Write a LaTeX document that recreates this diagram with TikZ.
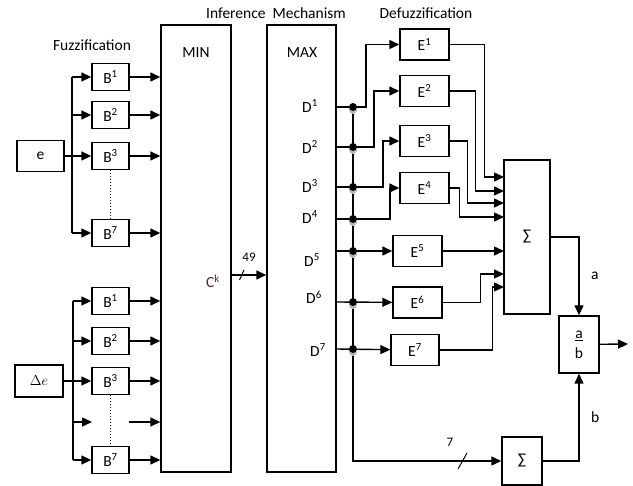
\documentclass[tikz,border=0pt]{standalone}
\usepackage{fontspec}
\setmainfont{Carlito}
\usetikzlibrary{positioning, arrows.meta}

\definecolor{ckcol}{RGB}{80,35,70}

\begin{document}
\begin{tikzpicture}[
    x=1pt, y=-1pt,
    font=\fontsize{15.5}{18}\selectfont,
    box/.style={draw, line width=1.4pt, inner sep=0pt},
    inbox/.style={box, minimum width=47pt, minimum height=31pt},
    fbox/.style={box, minimum width=37pt, minimum height=27pt},
    ebox/.style={box, minimum width=49pt, minimum height=31pt},
    bigbox/.style={box, minimum width=70pt, minimum height=447pt},
    wire/.style={line width=1.4pt},
    arr/.style={-{Triangle[length=10pt, width=9pt]}, line width=1.4pt},
    dots/.style={line width=1pt, dotted},
    tag/.style={font=\fontsize{13}{15}\selectfont}
]
\useasboundingbox (0,0) rectangle (633,486);

% === FUZZIFICATION ===
\node (fuzz) at (92,45) {Fuzzification};

\node[inbox] (e) at (40.5,156) {e};
\node[fbox] (b1) at (110.5,77) {B\textsuperscript{1}};
\node[fbox] (b2) at (110.5,115) {B\textsuperscript{2}};
\node[fbox] (b3) at (110.5,156) {B\textsuperscript{3}};
\node[fbox] (b7) at (110.5,233) {B\textsuperscript{7}};

\node[inbox, minimum width=48pt, minimum height=32pt] (de) at (39,381) {$\Delta e$};
\node[fbox] (c1) at (110.5,301) {B\textsuperscript{1}};
\node[fbox] (c2) at (110.5,341) {B\textsuperscript{2}};
\node[fbox] (c3) at (110.5,381) {B\textsuperscript{3}};
\node[fbox] (c7) at (110.5,460) {B\textsuperscript{7}};
\coordinate (phin) at (92,422);
\coordinate (phout) at (129,422);

% branch points
\coordinate (ebr) at (72,156);
\coordinate (dbr) at (73,381);

% === INFERENCE MECHANISM ===
\node (infer) at (276,13) {Inference\ \ Mechanism};
\node[bigbox] (min) at (196,248.5) {};
\node[bigbox, minimum width=69pt] (max) at (301.5,248.5) {};
\node (minlab) at (196,53) {MIN};
\node (maxlab) at (302,53) {MAX};
\node[text=ckcol] (ck) at (213,281) {C\textsuperscript{k}};

% e branch
\draw[arr] (e) -- (b3);
\draw[wire] (ebr |- b1) -- (ebr |- b7);
\draw[arr] (ebr |- b1) -- (b1);
\draw[arr] (ebr |- b2) -- (b2);
\draw[arr] (ebr |- b7) -- (b7);
\draw[dots] (b3) -- (b7);
\foreach \n in {b1,b2,b3,b7}
    \draw[arr] (\n) -- (\n -| min.west);

% delta e branch
\draw[arr] (de) -- (c3);
\draw[wire] (dbr |- c1) -- (dbr |- c7);
\draw[arr] (dbr |- c1) -- (c1);
\draw[arr] (dbr |- c2) -- (c2);
\draw[arr] (dbr |- phin) -- (phin);
\draw[arr] (dbr |- c7) -- (c7);
\draw[dots] (c3) -- (c7);
\draw[arr] (phout) -- (phout -| min.west);
\foreach \n in {c1,c2,c3,c7}
    \draw[arr] (\n) -- (\n -| min.west);

% MIN to MAX, 49 lines
\coordinate (c49) at (231,275);
\draw[arr] (c49) -- (c49 -| max.west);
\draw[wire, line width=1pt] (239.5,280) -- (244,270);
\node[tag] (n49) at (249,257) {49};

% D outputs
\foreach \i/\y/\x in {1/106/310, 2/147/310, 3/186/310, 4/217/310, 5/260/312, 6/297/314, 7/350/318}
    \node (dl\i) at (\x,\y) {D\textsuperscript{\i}};

\foreach \i/\y in {1/107, 2/147, 3/187, 4/219, 5/251, 6/302, 7/349} {
    \coordinate (d\i) at (336,\y);
    \coordinate (j\i) at (353,\y);
}

% === DEFUZZIFICATION ===
\node (defuzz) at (426,13) {Defuzzification};

\node[ebox] (e1) at (424.5,44.5) {E\textsuperscript{1}};
\node[ebox] (e2) at (424.5,91) {E\textsuperscript{2}};
\node[ebox] (e3) at (424.5,141) {E\textsuperscript{3}};
\node[ebox] (e4) at (424.5,188) {E\textsuperscript{4}};
\node[ebox] (e5) at (417.5,251) {E\textsuperscript{5}};
\node[ebox] (e6) at (417.5,302.5) {E\textsuperscript{6}};
\node[ebox, minimum width=48pt] (e7) at (415,350) {E\textsuperscript{7}};

\node[box, minimum width=46pt, minimum height=154pt] (s1) at (527,237) {∑};
\node[box, minimum width=40pt, minimum height=57pt, align=center] (ab) at (579,344.5) {\underline{a}\\[2pt]b};
\node[box, minimum width=40pt, minimum height=48pt] (s2) at (522,461) {∑};

% inputs of the sum
\foreach \k/\y in {1/177, 2/191, 3/203, 4/217, 5/251, 6/274, 7/287}
    \coordinate (s\k in) at (504,\y);

% D lines into E boxes
\draw[arr] (d1) -- (j1) -- ++(13,0) |- (e1);
\draw[arr] (d2) -- (j2) -- ++(21,0) |- (e2);
\draw[arr] (d3) -- (j3) -- ++(30,0) |- (e3);
\draw[arr] (d4) -- (j4) -- ++(37,0) |- (e4);
\draw[arr] (d5) -- (e5);
\draw[arr] (d6) -- (e6);
\draw[arr] (d7) -- (e7);

% bus and sum of D
\draw[arr] (j1) |- (s2);
\draw[wire, line width=1pt] (458,469) -- (467,453);
\node[tag] (n7) at (450,442) {7};

% junction dots
\foreach \i in {1,...,7} {
    \fill[gray!55] ([yshift=-3pt]j\i) circle (4pt);
    \fill (j\i) circle (4pt);
}

% E outputs into the sum
\draw[arr] (e1.east) -- ++(35,0) |- (s1in);
\draw[arr] (e2.east) -- ++(26,0) |- (s2in);
\draw[arr] (e3.east) -- ++(18,0) |- (s3in);
\draw[arr] (e4.east) -- ++(10,0) |- (s4in);
\draw[arr] (e5) -- (s5in);
\draw[arr] (e6.east) -- ++(38,0) |- (s6in);
\draw[arr] (e7.east) -- ++(53,0) |- (s7in);

% division
\draw[arr] (s1) -| node[pos=0.75, right=8pt] {a} (ab);
\draw[arr] (s2) -| node[pos=0.75, right=8pt] {b} (ab);
\coordinate (out) at (628,344);
\draw[arr] (ab) -- (out);

\end{tikzpicture}
\end{document}
